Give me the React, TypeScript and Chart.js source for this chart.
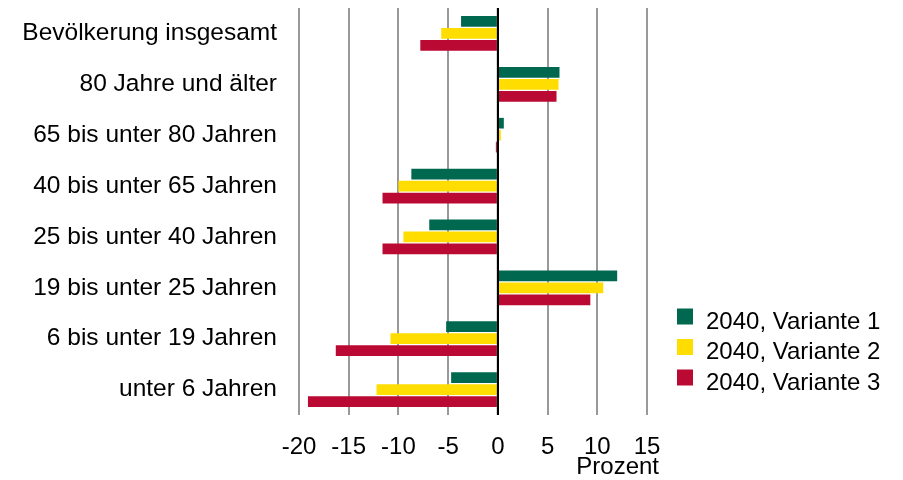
import React, { useEffect, useRef } from "react";
import { Chart, registerables } from "chart.js";

Chart.register(...registerables);

const categories = [
  "Bevölkerung insgesamt",
  "80 Jahre und älter",
  "65 bis unter 80 Jahren",
  "40 bis unter 65 Jahren",
  "25 bis unter 40 Jahren",
  "19 bis unter 25 Jahren",
  "6 bis unter 19 Jahren",
  "unter 6 Jahren",
];

const variante1 = [-3.7, 6.2, 0.6, -8.7, -6.9, 12.0, -5.2, -4.7];
const variante2 = [-5.7, 6.1, 0.3, -10.0, -9.5, 10.6, -10.8, -12.2];
const variante3 = [-7.8, 5.9, -0.2, -11.6, -11.6, 9.3, -16.3, -19.1];

const seriesLabels = ["2040, Variante 1", "2040, Variante 2", "2040, Variante 3"];
const seriesColors = ["#00684F", "#FFDD00", "#BA0A33"];

const xTickValues = [-20, -15, -10, -5, 0, 5, 10, 15];
const axisTitle = "Prozent";

const FONT = "'Liberation Sans', Arial, Helvetica, sans-serif";

const overlayPlugin = {
  id: "overlay",
  afterDatasetsDraw(chart: any) {
    const { ctx, chartArea, scales } = chart;
    const x0 = scales.x.getPixelForValue(0);
    ctx.save();
    ctx.strokeStyle = "#000000";
    ctx.lineWidth = 2;
    ctx.beginPath();
    ctx.moveTo(x0, chartArea.top);
    ctx.lineTo(x0, chartArea.bottom);
    ctx.stroke();
    ctx.restore();
  },
  afterDraw(chart: any) {
    const { ctx, chartArea } = chart;
    ctx.save();
    ctx.font = `24px ${FONT}`;
    ctx.fillStyle = "#000000";
    // axis title
    ctx.textAlign = "right";
    ctx.textBaseline = "alphabetic";
    ctx.fillText(axisTitle, chartArea.right + 12, 466);
    // legend
    const boxX = chartArea.right + 30;
    const top0 = 300.5;
    const step = 30.5;
    ctx.textAlign = "left";
    chart.data.datasets.forEach((ds: any, i: number) => {
      const y = top0 + i * step;
      ctx.fillStyle = ds.backgroundColor;
      ctx.fillRect(boxX, y, 16, 16);
      ctx.fillStyle = "#000000";
      ctx.fillText(ds.label, boxX + 29, y + 20);
    });
    ctx.restore();
  },
};

export default function App() {
  const canvasRef = useRef<HTMLCanvasElement | null>(null);

  useEffect(() => {
    if (!canvasRef.current) return;
    const seriesData = [variante1, variante2, variante3];
    const chart = new Chart(canvasRef.current, {
      type: "bar",
      data: {
        labels: categories,
        datasets: seriesData.map((d, i) => ({
          label: seriesLabels[i],
          data: d,
          backgroundColor: seriesColors[i],
          borderWidth: 0,
          barPercentage: 0.89,
          categoryPercentage: 0.707,
        })),
      },
      options: {
        indexAxis: "y",
        animation: false,
        responsive: true,
        maintainAspectRatio: false,
        layout: { padding: { left: 0, top: 0, right: 248, bottom: 0 } },
        plugins: {
          legend: { display: false },
          tooltip: { enabled: false },
          title: { display: false },
        },
        scales: {
          x: {
            type: "linear",
            min: -20,
            max: 15,
            afterBuildTicks: (scale: any) => {
              scale.ticks = xTickValues.map((v) => ({ value: v }));
            },
            afterFit: (scale: any) => {
              scale.height = 65;
            },
            grid: {
              color: (c: any) => (c.tick && c.tick.value === 0 ? "#000000" : "#999999"),
              lineWidth: 2,
              drawTicks: false,
            },
            border: { display: false },
            ticks: {
              color: "#000000",
              padding: 23,
              font: { family: FONT, size: 24, lineHeight: 0.75 },
              maxRotation: 0,
              autoSkip: false,
            },
          },
          y: {
            type: "category",
            grid: { display: false, drawTicks: false },
            border: { display: false },
            afterFit: (scale: any) => {
              scale.width = 291;
              scale.paddingTop = 0;
              scale.paddingBottom = 0;
            },
            ticks: {
              color: "#000000",
              padding: 22,
              font: { family: FONT, size: 24.5 },
              autoSkip: false,
            },
          },
        },
      },
      plugins: [overlayPlugin],
    });
    return () => chart.destroy();
  }, []);

  return (
    <div style={{ position: "relative", width: "887px", height: "472px" }}>
      <canvas ref={canvasRef} />
    </div>
  );
}
